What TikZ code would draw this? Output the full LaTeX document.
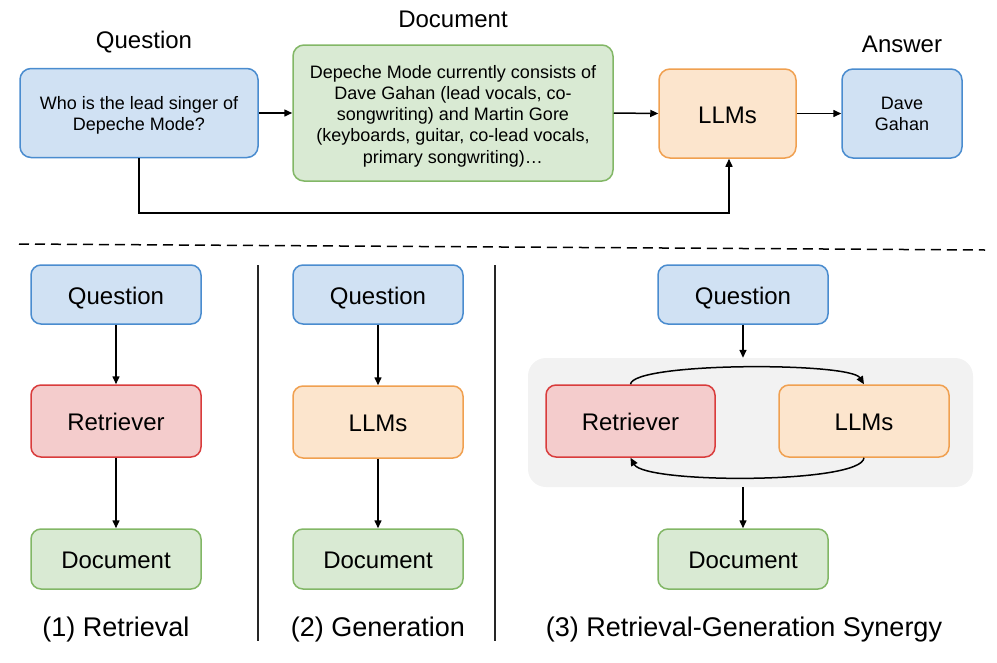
\documentclass[tikz,border=0pt]{standalone}
\usepackage{fontspec}
\setmainfont{Liberation Sans}
\usetikzlibrary{arrows.meta}
\definecolor{bfill}{RGB}{208,225,243}
\definecolor{bdraw}{RGB}{74,140,207}
\definecolor{gfill}{RGB}{217,234,211}
\definecolor{gdraw}{RGB}{130,183,102}
\definecolor{ofill}{RGB}{252,229,205}
\definecolor{odraw}{RGB}{240,160,80}
\definecolor{rfill}{RGB}{244,204,204}
\definecolor{rdraw}{RGB}{217,60,60}
\definecolor{cfill}{RGB}{242,242,242}
\tikzset{
  box/.style={rectangle, rounded corners=11pt, line width=1.5pt, inner sep=0pt, align=center},
  bluebox/.style={box, fill=bfill, draw=bdraw},
  greenbox/.style={box, fill=gfill, draw=gdraw},
  orangebox/.style={box, fill=ofill, draw=odraw},
  redbox/.style={box, fill=rfill, draw=rdraw},
  small/.style={font=\fontsize{18}{21.2}\selectfont},
  big/.style={font=\fontsize{24}{27}\selectfont, text height=23.5pt, text depth=3.6pt},
  label/.style={font=\fontsize{24}{27}\selectfont},
  caption/.style={font=\fontsize{27}{30}\selectfont},
  arr/.style={-{Triangle[length=8pt,width=7pt]}, line width=1.5pt},
  sep/.style={line width=1.8pt, draw=black!85},
}
\begin{document}
\begin{tikzpicture}[x=1pt,y=-1pt]
\useasboundingbox (0,0) rectangle (997,662);
% ---------- top ----------
\node[bluebox, small, text height=34.5pt, text depth=0pt, minimum width=238pt, minimum height=89pt] (q) at (139,113) {Who is the lead singer of\\Depeche Mode?};
\node[greenbox, small, text height=100pt, text depth=0pt, minimum width=320pt, minimum height=136pt] (doc) at (453,113) {Depeche Mode currently consists of\\Dave Gahan (lead vocals, co-\\songwriting) and Martin Gore\\(keyboards, guitar, co-lead vocals,\\primary songwriting)…};
\node[orangebox, big, minimum width=137pt, minimum height=89pt] (llm) at (727.5,113.5) {LLMs};
\node[bluebox, small, text height=34.5pt, text depth=0pt, minimum width=120pt, minimum height=89pt] (ans) at (902,113.5) {Dave\\Gahan};
\node[label] (lq) at (144,42) {Question};
\node[label] (ld) at (453,19) {Document};
\node[label] (la) at (902,44) {Answer};
\draw[arr] (q.east) -- (doc.west);
\draw[arr] (doc.east) -- (llm.west);
\draw[arr] (llm.east) -- (ans.west);
\coordinate (fb) at (729,213);
\draw[arr] (q.south) |- (fb) -- (fb |- llm.south);
% ---------- dashed separator ----------
\coordinate (d1) at (19,244);
\coordinate (d2) at (985,250);
\draw[line width=1.5pt, dash pattern=on 10pt off 6pt] (d1) -- (d2);
% ---------- column 1 ----------
\node[bluebox, big, minimum width=170pt, minimum height=59pt, rounded corners=10pt] (q1) at (116,294.5) {Question};
\node[redbox, big, minimum width=170pt, minimum height=72pt, rounded corners=10pt] (r1) at (116,421) {Retriever};
\node[greenbox, big, minimum width=170pt, minimum height=60pt, rounded corners=10pt] (d1b) at (116,559) {Document};
\draw[arr] (q1.south) -- (r1.north);
\draw[arr] (r1.south) -- (d1b.north);
\node[caption] (c1) at (116,630) {(1) Retrieval};
% ---------- separators ----------
\coordinate (s1a) at (258,265); \coordinate (s1b) at (258,641);
\coordinate (s2a) at (495,265); \coordinate (s2b) at (495,641);
\draw[sep] (s1a) -- (s1b);
\draw[sep] (s2a) -- (s2b);
% ---------- column 2 ----------
\node[bluebox, big, minimum width=170pt, minimum height=59pt, rounded corners=10pt] (q2) at (378,294.5) {Question};
\node[orangebox, big, minimum width=170pt, minimum height=72pt, rounded corners=10pt] (l2) at (378,422) {LLMs};
\node[greenbox, big, minimum width=170pt, minimum height=60pt, rounded corners=10pt] (d2b) at (378,559) {Document};
\draw[arr] (q2.south) -- (l2.north);
\draw[arr] (l2.south) -- (d2b.north);
\node[caption] (c2) at (378,630) {(2) Generation};
% ---------- column 3 ----------
\node[rectangle, rounded corners=18pt, fill=cfill, minimum width=445pt, minimum height=129pt, inner sep=0pt] (cont) at (750.5,422.5) {};
\node[bluebox, big, minimum width=170pt, minimum height=59pt, rounded corners=10pt] (q3) at (743,294.5) {Question};
\node[redbox, big, minimum width=169pt, minimum height=72pt, rounded corners=10pt] (r3) at (630.5,421) {Retriever};
\node[orangebox, big, minimum width=170pt, minimum height=72pt, rounded corners=10pt] (l3) at (864,421) {LLMs};
\node[greenbox, big, minimum width=170pt, minimum height=60pt, rounded corners=10pt] (d3b) at (743,559) {Document};
\draw[arr] (q3.south) -- (q3.south |- cont.north);
\draw[arr] (d3b.north |- cont.south) -- (d3b.north);
\draw[arr] (r3.north) .. controls (633,362) and (850,362) .. (l3.north);
\draw[arr] (l3.south) .. controls (862,484) and (645,484) .. (r3.south);
\node[caption] (c3) at (744,630) {(3) Retrieval-Generation Synergy};
\end{tikzpicture}
\end{document}
